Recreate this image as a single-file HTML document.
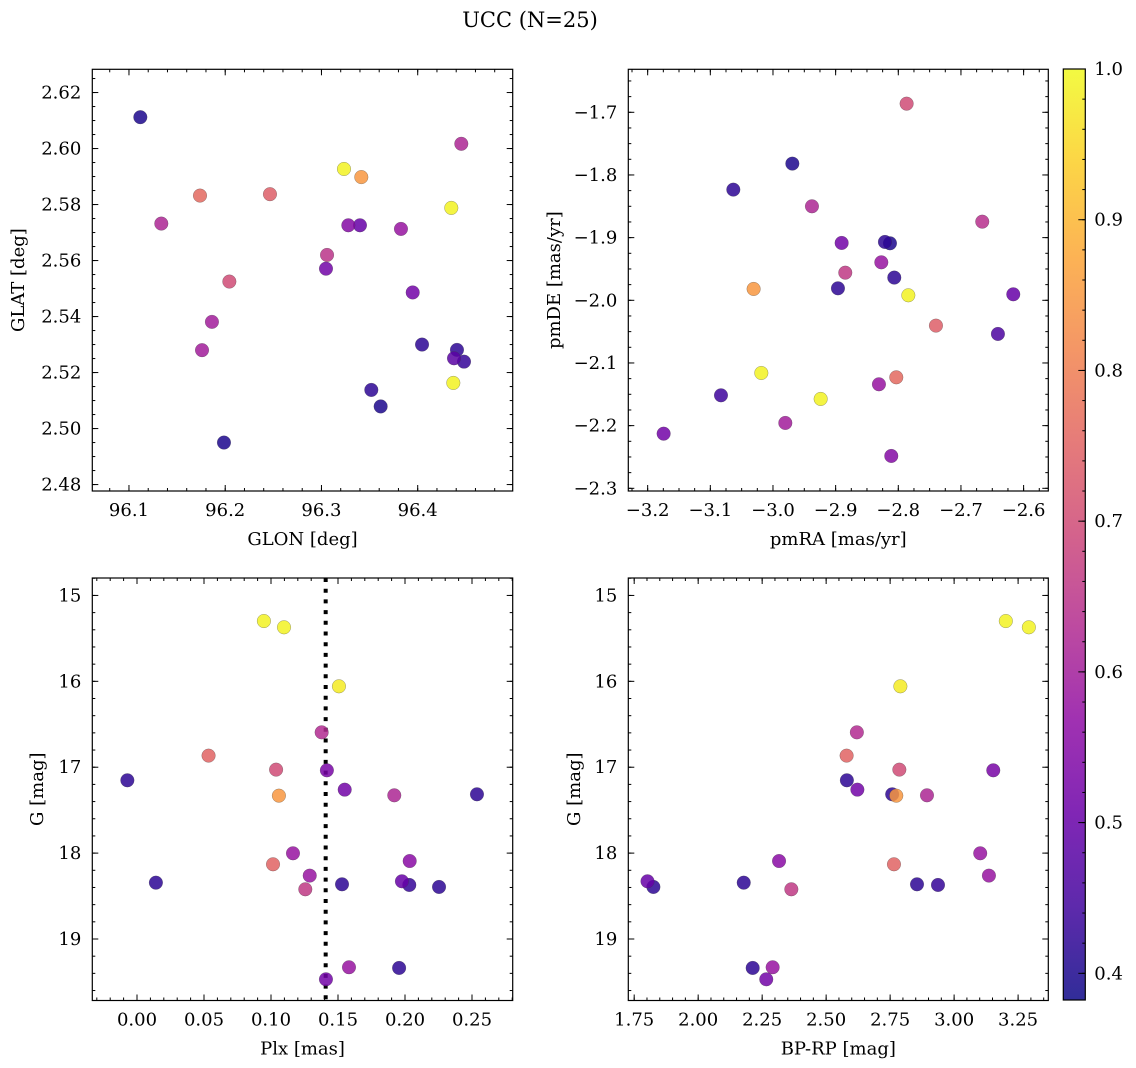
<!DOCTYPE html>
<html><head><meta charset="utf-8">
<style>
html,body{margin:0;padding:0;background:#fff;}
svg{display:block;font-family:"DejaVu Serif","Liberation Serif",serif;}
</style></head>
<body>
<svg id="fig" width="1136" height="1068" viewBox="0 0 1136 1068" xmlns="http://www.w3.org/2000/svg">
<text x="530" y="27" font-size="21" text-anchor="middle">UCC (N=25)</text>
</svg>
<script>
// ---- data ----
const glon = [96.1118,96.1336,96.1738,96.2465,96.2043,96.1862,96.1759,96.1987,96.3234,96.3414,96.3058,96.3047,96.3279,96.3400,96.3826,96.4453,96.4349,96.3948,96.4045,96.4408,96.4377,96.4481,96.4370,96.3518,96.3615];
const glat = [2.6112,2.5732,2.5832,2.5837,2.5525,2.5381,2.5280,2.4950,2.5927,2.5898,2.5620,2.5571,2.5726,2.5726,2.5713,2.6017,2.5788,2.5486,2.5300,2.5281,2.5251,2.5239,2.5163,2.5138,2.5079];
const probGal = [0.40,0.62,0.76,0.74,0.70,0.60,0.60,0.40,0.99,0.85,0.65,0.52,0.55,0.50,0.58,0.62,0.99,0.52,0.42,0.42,0.48,0.43,0.99,0.42,0.40];

const pmra = [-2.7867,-2.9691,-3.0633,-2.9378,-2.6660,-2.8904,-2.8213,-2.8133,-2.8271,-2.8846,-2.8064,-2.8963,-3.0309,-2.7840,-2.6165,-2.7399,-2.6410,-3.0186,-2.8032,-2.8309,-3.0830,-2.9239,-2.9803,-3.1745,-2.8112];
const pmde = [-1.6862,-1.7819,-1.8234,-1.8500,-1.8745,-1.9085,-1.9069,-1.9090,-1.9394,-1.9559,-1.9638,-1.9809,-1.9819,-1.9920,-1.9904,-2.0404,-2.0537,-2.1160,-2.1229,-2.1340,-2.1516,-2.1574,-2.1957,-2.2128,-2.2484];
const probPm = [0.70,0.40,0.42,0.62,0.64,0.52,0.42,0.40,0.58,0.66,0.42,0.42,0.85,0.99,0.50,0.74,0.46,0.99,0.76,0.58,0.44,0.99,0.60,0.52,0.55];

const plx  = [0.0947,0.1097,0.1507,0.1378,0.0534,0.1038,0.1417,-0.0072,0.1059,0.1550,0.1920,0.2537,0.1164,0.1015,0.2035,0.1289,0.1256,0.1530,0.1977,0.2032,0.2254,0.0141,0.1582,0.1956,0.1410];
const bprp = [3.202,3.292,2.790,2.620,2.580,2.786,3.153,2.581,2.774,2.622,2.894,2.758,3.102,2.765,2.316,3.136,2.364,2.855,1.802,2.937,1.825,2.178,2.291,2.213,2.266];
const gmag = [15.298,15.371,16.058,16.594,16.865,17.028,17.036,17.152,17.331,17.261,17.327,17.315,18.002,18.130,18.092,18.262,18.421,18.363,18.328,18.371,18.394,18.344,19.329,19.337,19.469];
const probPh = [0.99,0.99,0.98,0.63,0.75,0.70,0.53,0.42,0.85,0.52,0.62,0.42,0.58,0.75,0.56,0.58,0.66,0.42,0.50,0.43,0.42,0.42,0.58,0.42,0.52];

const plxMedian = [0.1408];
const cbTicks = [0.4,0.5,0.6,0.7,0.8,0.9,1.0];

const NS = "http://www.w3.org/2000/svg";
const svg = document.getElementById('fig');
const CMIN = 0.3823, CMAX = 1.0;
const FS = 18;
const stops = ["#0d0887","#41049d","#6a00a8","#8f0da4","#b12a90","#cc4778","#e16462","#f2844b","#fca636","#fcce25","#f0f921"];
function hex(h){return [parseInt(h.substr(1,2),16),parseInt(h.substr(3,2),16),parseInt(h.substr(5,2),16)];}
function plasma(v){
  let t=(v-CMIN)/(CMAX-CMIN); t=Math.max(0,Math.min(1,t));
  const f=t*10, i=Math.min(9,Math.floor(f)), r=f-i;
  const a=hex(stops[i]), b=hex(stops[i+1]);
  return 'rgb('+[0,1,2].map(k=>Math.round(a[k]+(b[k]-a[k])*r)).join(',')+')';
}
function mk(tag,attrs,parent){const e=document.createElementNS(NS,tag);for(const k in attrs)e.setAttribute(k,attrs[k]);(parent||svg).appendChild(e);return e;}

function panel(cfg){
  const g=mk('g',{});
  
  
  const {x0,y0,x1,y1,xmin,xmax,ymin,ymax,inv}=cfg;
  const sx=v=>x0+(v-xmin)/(xmax-xmin)*(x1-x0);
  const sy=v=>inv? y0+(v-ymin)/(ymax-ymin)*(y1-y0) : y1-(v-ymin)/(ymax-ymin)*(y1-y0);
  const eps=1e-9;
  const tg=mk('g',{stroke:'#000','stroke-width':1},g);
  
  
  for(let k=Math.ceil(xmin/cfg.xmin_step-eps); k*cfg.xmin_step<=xmax+eps; k++){
    const x=sx(k*cfg.xmin_step); mk('line',{x1:x,x2:x,y1:y1,y2:y1-3},tg); mk('line',{x1:x,x2:x,y1:y0,y2:y0+3},tg);}
  for(let k=Math.ceil(ymin/cfg.ymin_step-eps); k*cfg.ymin_step<=ymax+eps; k++){
    const y=sy(k*cfg.ymin_step); mk('line',{x1:x0,x2:x0+3,y1:y,y2:y},tg); mk('line',{x1:x1,x2:x1-3,y1:y,y2:y},tg);}
  cfg.xt.forEach(v=>{const x=sx(v); mk('line',{x1:x,x2:x,y1:y1,y2:y1-6},tg); mk('line',{x1:x,x2:x,y1:y0,y2:y0+6},tg);
    const t=mk('text',{x:x,y:y1+25,'font-size':FS,'text-anchor':'middle'},g); t.textContent=cfg.xf(v);
    
    });
  cfg.yt.forEach(v=>{const y=sy(v); mk('line',{x1:x0,x2:x0+6,y1:y,y2:y},tg); mk('line',{x1:x1,x2:x1-6,y1:y,y2:y},tg);
    const t=mk('text',{x:x0-11,y:y+6,'font-size':FS,'text-anchor':'end'},g); t.textContent=cfg.yf(v);
    
    });
  if(cfg.vline!==undefined){
    const x=sx(cfg.vline);
    const l=mk('line',{x1:x,x2:x,y1:y0,y2:y1,stroke:'#000','stroke-width':4,'stroke-dasharray':'4,6.7'},g);
    
    
  }
  const pts=cfg.xs.map((v,i)=>i).sort((a,b)=>cfg.cs[a]-cfg.cs[b]);
  pts.forEach(i=>{
    const c=mk('circle',{cx:sx(cfg.xs[i]),cy:sy(cfg.ys[i]),r:6.8,fill:plasma(cfg.cs[i]),'fill-opacity':0.85,stroke:'rgba(60,60,60,0.5)','stroke-width':0.5},g);
    
    
  });
  const fr=mk('rect',{x:x0,y:y0,width:x1-x0,height:y1-y0,fill:'none',stroke:'#000','stroke-width':1.2},g);
  
  
  const xl=mk('text',{x:(x0+x1)/2,y:y1+54,'font-size':FS,'text-anchor':'middle'},g); xl.textContent=cfg.xlabel;
  
  
  const yl=mk('text',{x:0,y:0,'font-size':FS,'text-anchor':'middle',transform:`translate(${cfg.ylx},${(y0+y1)/2}) rotate(-90)`},g); yl.textContent=cfg.ylabel;
  
  
}
const f1=v=>v.toFixed(1), f2=v=>v.toFixed(2), m1=v=>(v<0?'\u2212':'')+Math.abs(v).toFixed(1), i0=v=>v.toFixed(0);

panel({name:'glon-glat-panel',x0:92.3,x1:512.7,y0:69.3,y1:491,xmin:96.0619,xmax:96.4987,ymin:2.4777,ymax:2.6283,
  xmin_step:0.02,ymin_step:0.005,xt:[96.1,96.2,96.3,96.4],yt:[2.48,2.50,2.52,2.54,2.56,2.58,2.60,2.62],xf:f1,yf:f2,
  xs:glon,ys:glat,cs:probGal,xlabel:'GLON [deg]',ylabel:'GLAT [deg]',ylx:24});
panel({name:'pm-panel',x0:628.3,x1:1048.3,y0:69.3,y1:491,xmin:-3.2309,xmax:-2.5606,ymin:-2.3043,ymax:-1.6314,
  xmin_step:0.025,ymin_step:0.025,xt:[-3.2,-3.1,-3.0,-2.9,-2.8,-2.7,-2.6],yt:[-2.3,-2.2,-2.1,-2.0,-1.9,-1.8,-1.7],xf:m1,yf:m1,
  xs:pmra,ys:pmde,cs:probPm,xlabel:'pmRA [mas/yr]',ylabel:'pmDE [mas/yr]',ylx:560});
panel({name:'plx-g-panel',x0:92.3,x1:512.7,y0:578,y1:1000.5,xmin:-0.03336,xmax:0.28037,ymin:14.797,ymax:19.716,inv:true,
  xmin_step:0.01,ymin_step:0.2,xt:[0,0.05,0.10,0.15,0.20,0.25],yt:[15,16,17,18,19],xf:f2,yf:i0,
  xs:plx,ys:gmag,cs:probPh,vline:plxMedian[0],xlabel:'Plx [mas]',ylabel:'G [mag]',ylx:43});
panel({name:'cmd-panel',x0:628.3,x1:1048.3,y0:578,y1:1000.5,xmin:1.727,xmax:3.368,ymin:14.797,ymax:19.716,inv:true,
  xmin_step:0.05,ymin_step:0.2,xt:[1.75,2.0,2.25,2.5,2.75,3.0,3.25],yt:[15,16,17,18,19],xf:f2,yf:i0,
  xs:bprp,ys:gmag,cs:probPh,xlabel:'BP-RP [mag]',ylabel:'G [mag]',ylx:580});

// colorbar
(function(){
  const x0=1063.3,x1=1085.3,y0=69,y1=1000;
  const g=mk('g',{});
  
  
  const defs=mk('defs',{},g);
  const lg=mk('linearGradient',{id:'cbg',x1:0,y1:1,x2:0,y2:0},defs);
  for(let k=0;k<=20;k++){const v=CMIN+(CMAX-CMIN)*k/20; mk('stop',{offset:k/20,'stop-color':plasma(v),'stop-opacity':0.85},lg);}
  mk('rect',{x:x0,y:y0,width:x1-x0,height:y1-y0,fill:'url(#cbg)',stroke:'#000','stroke-width':1.2},g);
  const sy=v=>y1-(v-CMIN)/(CMAX-CMIN)*(y1-y0);
  for(let k=20;k<=50;k++){const y=sy(k*0.02); mk('line',{x1:x1,x2:x1-3,y1:y,y2:y,stroke:'#000'},g);}
  cbTicks.forEach(v=>{const y=sy(v); mk('line',{x1:x1,x2:x1-7,y1:y,y2:y,stroke:'#000'},g);
    const t=mk('text',{x:x1+9,y:y+6,'font-size':FS},g); t.textContent=v.toFixed(1);
    
    });
})();
</script>
</body></html>
